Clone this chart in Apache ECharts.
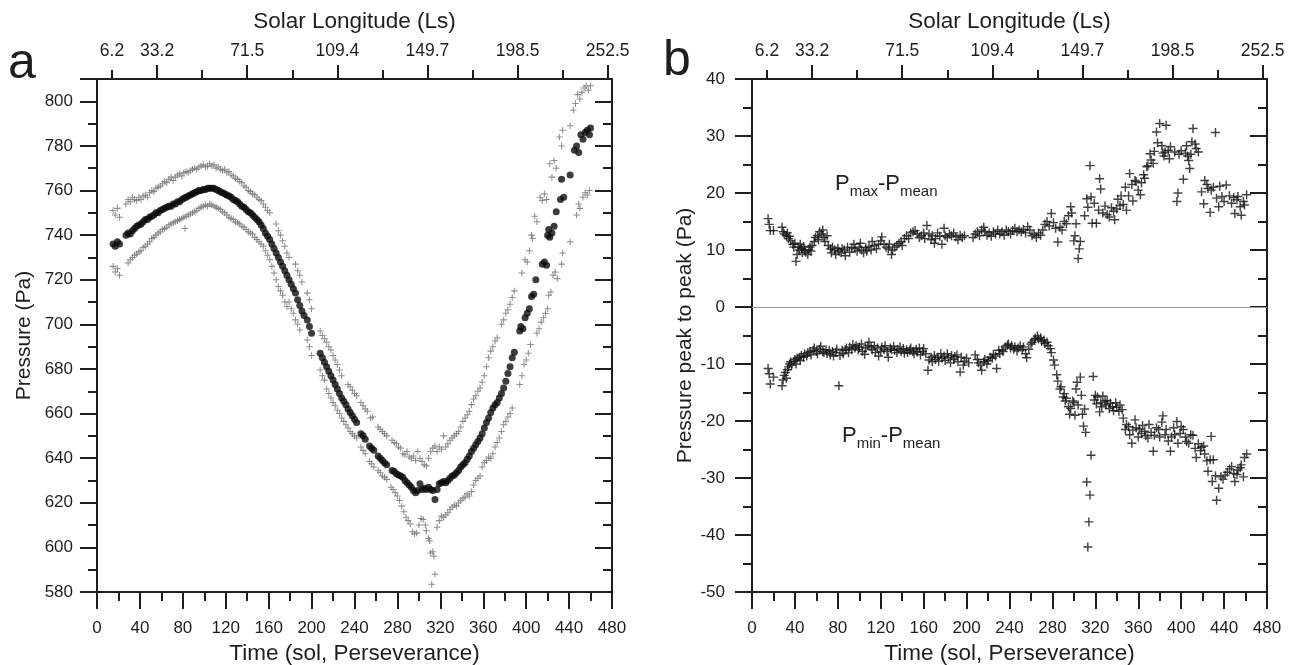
<!DOCTYPE html>
<html>
<head>
<meta charset="utf-8">
<script src="https://cdn.jsdelivr.net/npm/echarts@6/dist/echarts.min.js"></script>
<style>
html,body{margin:0;padding:0;background:#fff;}
#chart{width:1301px;height:665px;}
</style>
</head>
<body>
<div id="chart"></div>
<script>
// ---------- DATA ----------
// Top axis (Solar Longitude) : sol positions of ticks and their Ls labels
const lsLongTickSols = [56, 140, 224, 308, 392, 476];
const lsShortTickSols = [14, 98, 182, 266, 350, 434];
const lsLabelSols = [14, 56, 140, 224, 308, 392, 476];
const lsLabels = ['6.2', '33.2', '71.5', '109.4', '149.7', '198.5', '252.5'];

// Panel a : daily mean pressure (Pa) [sol, value]
const pMean = [
[15,736],[17,735],[19,737],[21,736],
[27,740],[29,741],[31,740.5],[33,742],[35,743],[37,744],[39,744.5],[41,745],[43,746],[45,747],[47,747],[49,748],
[51,748.5],[53,749],[55,750],[57,750],[59,751],[61,751.5],[63,752],[65,752.5],[67,753],[69,753],[71,754],[73,754],
[75,755],[77,755],[79,756],[81,756.5],[83,757],[85,757.5],[87,758],[89,758.5],[91,759],[93,759.5],[95,760],[97,760],
[99,760.5],[101,760.5],[103,761],[105,761],[107,761],[109,761],[111,760.5],[113,760],[115,759.5],[117,759],[119,758.5],
[121,758],[123,757.5],[125,757],[127,756],[129,755.5],[131,755],[133,754],[135,753],[137,752.5],[139,751.5],[141,750.5],
[143,750],[145,749],[147,748],[149,747],[151,746],[153,744.5],[155,743],[157,741],[159,739.5],[161,738],[163,736],
[165,734],[167,732],[169,730],[171,728],[173,726],[175,724],[177,722],[179,720],[181,718],[183,716],[185,714],[187,711],
[189,708.5],[191,706],[193,704],[196,702],[198,699],[200,696],
[208,687],[210,685],[212,683],[214,681],[216,679],[218,677],[220,675],[222,673],[224,671],[226,669],[228,667],[230,665.5],
[232,664],[234,662],[236,660.5],[238,659],[240,657.5],[242,656],[246,651],[248,650],[250,648.5],[254,645.5],[256,644.5],
[258,643.5],[262,641],[264,640],[266,639],[268,638],[270,637],[275,634.5],[277,634],[279,633],[281,632.5],[283,632],
[285,631.5],[287,630],[289,629],[291,628],[293,627],[295,625.5],[297,624.5],[299,625.5],[301,628.5],[303,626],[305,626.5],
[307,626],[309,627],[311,626],[313,625.5],[315,621.5],[317,626],[319,628.5],[321,629],[323,629.5],[325,629],[327,630],
[329,631],[331,632],[333,632.5],[335,633.5],[337,634.5],[339,636],[341,637],[343,638],[345,639.5],[347,641],[349,643],
[351,644.5],[353,646],[355,647.5],[357,649],[359,651],[361,653.5],[363,656],[365,658],[367,660.5],[369,662.5],[371,664],
[373,665],[375,667],[377,669],[379,671.5],[381,674.5],[383,678],[385,681],[387,685],[389,687.5],
[394,697],[395,699],[397,698],[399,703],[401,705],[403,707],[405,712.5],[407,713.5],[409,720],
[415,727],[417,728],[419,726.5],[420,740],[421,742.5],[422,739],[424,741],[426,744],[428,750.5],[432,756],[433,765],
[435,757],[441,767],[445,778],[447,780],[449,777],[451,785],[453,783],[455,786],[457,787],[459,785],[460,788]
];

// Panel a : daily maximum pressure (Pa)
const pMax = [
[15,751],[17,749],[19,752],[21,748],
[27,754],[29,756],[31,755],[33,757],[35,756],[37,755.5],[39,757],[41,756],[43,757.5],[45,758],[47,757],[49,759],
[51,760],[53,759.5],[55,761],[57,761.5],[59,762],[61,763],[63,764],[65,763.5],[67,765],[69,766],[71,764.5],[73,766],
[75,767],[77,767.5],[79,766.5],[81,768],[83,768.5],[85,768],[87,769],[89,769.5],[91,770],[93,769.5],[95,770.5],[97,771],
[99,771.5],[101,770.5],[103,771],[105,772],[107,771],[109,771.5],[111,770],[113,770.5],[115,769.5],[117,769],[119,769.5],
[121,768],[123,768.5],[125,767],[127,766.5],[129,765.5],[131,765],[133,764],[135,763.5],[137,762],[139,761.5],[141,760],
[143,759.5],[145,758.5],[147,758],[149,757],[151,756],[153,755.5],[155,754],[157,752.5],[159,751],[161,750],
[167,745],[169,742],[171,740],[173,737.5],[175,735],[177,732],[179,730],[185,727],[187,724],[189,722],[191,719],
[196,714],[198,711],[200,707],
[208,697],[210,695],[212,693.5],[214,692],[216,690],[218,688.5],[220,686],[222,684],[224,682],[226,679.5],[228,677],
[234,673],[236,672],[238,670.5],[240,669],[242,668],[246,665],[248,663.5],[250,662],[252,661],[255,658],[257,658.5],
[262,654],[264,653],[266,652],[268,651],[270,650],[275,648],[277,647],[279,646.5],[281,645],[283,644.5],[285,642],
[287,641.5],[289,643],[291,640.5],[293,640],[295,641],[297,639],[299,643],[301,640],[303,638.5],[305,637],[307,636.5],
[309,640],[311,643],[313,644.5],[315,645.5],[317,643],[319,645],[321,644],[323,650],[325,645],[327,646.5],[329,648],
[331,649],[333,650],[335,651],[337,652],[339,654],[341,656.5],[343,658],[345,659.5],[347,661],[349,664],[351,666.5],
[353,668],[355,670],[357,671.5],[359,674],[361,677],[363,681],[365,685],[367,688],[369,690],[371,692.5],[373,694],
[377,700],[379,702],[381,705],[383,706.5],[385,709],[387,712],[389,715],
[396,723],[399,729],[401,728],[403,733],[405,740],[406,738.5],[408,748.5],[410,746],[413,757],[415,755.5],[417,758.5],
[419,756],[422,772],[424,766],[426,773.5],[428,770],[431,784],[433,780],[434,787],[441,789],[444,796],[446,799],
[448,803],[450,801],[452,804],[454,806],[456,807],[458,805],[460,807]
];

// Panel a : daily minimum pressure (Pa)
const pMin = [
[15,726],[17,723.5],[19,725],[21,722],
[29,727.5],[31,729],[33,730],[35,731],[37,731.5],[39,732.5],[41,733],[43,734.5],[45,735],[47,736],[49,737],[51,738.5],
[53,739],[55,740],[57,741],[59,741.5],[61,742.5],[63,743],[65,743.5],[67,744.5],[69,745],[71,745.5],[73,746],[75,746.5],
[77,747],[79,747.5],[81,748],[82,743],[83,748.5],[85,749],[87,749.5],[89,750],[91,750.5],[93,751],[95,752],[97,752.5],
[99,753],[101,753.5],[103,753],[105,754],[107,753.5],[109,753],[111,752.5],[113,752],[115,751.5],[117,750.5],[119,750],
[121,749],[123,748],[125,747.5],[127,747],[129,746],[131,745.5],[133,745],[135,744],[137,743.5],[139,742.5],[141,741.5],
[143,741],[145,740.5],[147,739],[149,738],[151,737],[153,736],[155,735],[157,733],[159,731],[161,729],[163,726],
[165,723],[167,720],[169,717],[171,715],[173,713],[175,710],[177,708],[179,710],[181,707],[183,705],[185,702],[187,700],
[189,697.5],[196,693],[198,690],[200,686],
[208,679.5],[210,677],[212,675],[214,671],[216,669],[218,667],[220,665],[222,663.5],[224,661.5],[226,660],[228,658],
[230,656.5],[232,655],[234,653.5],[236,652],[238,651],[240,650],[242,649],[246,645],[248,643.5],[250,642],[254,638.5],
[256,637.5],[258,636],[262,634.5],[264,633.5],[266,632],[268,631.5],[270,630.5],[274,627],[276,626],[278,624.5],
[280,623],[282,621],[284,618.5],[286,616],[288,613.5],[290,612],[292,610.5],[294,607],[296,606],[298,606.5],[300,610],
[302,613],[304,612.5],[306,610],[307,607.5],[309,604],[310,603],[311,597.5],[312,583.5],[313,598],[314,596],[315,588],
[317,609],[319,612],[321,614],[323,613.5],[325,614.5],[327,615.5],[329,617],[331,618],[333,619],[335,618.5],[337,620],
[339,621],[341,622],[343,622.5],[345,624],[347,623],[349,625],[351,628],[353,630],[355,631],[357,632],[359,636],
[361,638],[363,639],[365,640.5],[367,640],[369,642],[371,645],[373,647],[375,649],[377,652],[379,655],[381,656.5],
[383,658.5],[385,660],[387,662.5],[394,673],[396,677],[398,682],[400,684],[402,687],[404,691],[410,696],[412,698],
[414,701],[416,703],[418,705],[420,707],[421,713],[423,714.5],[425,722],[427,723.5],[429,720.5],[433,727],[434,732],
[441,737],[447,749],[449,754],[450,752],[453,757],[455,759],[457,758],[459,760]
];

// Panel b : Pmax - Pmean (Pa)
const dMax = [
[15,15.5],[16,14.5],[17,13.4],[20,13.4],[28,14],[29,13.2],[30,12.8],[32,12.5],[33,13],[34,12],[35,12.4],[36,11.6],
[38,11],[39,10.5],[40,11.2],[41,8],[42,9.2],[43,10.5],[44,10],[45,11],[46,10.3],[47,9.5],[48,10.6],[49,10],[50,9.6],
[52,9.2],[53,10],[54,10.5],[55,9.8],[56,10.8],[58,11.5],[59,12.2],[61,12.5],[62,11.8],[63,13.2],[65,12.8],[66,13.5],
[67,12.2],[68,11.5],[70,12.5],[71,10.8],[73,10.2],[74,9.5],[75,10.5],[77,10],[78,9.2],[80,10.3],[81,9.8],[83,9.5],
[84,10.2],[86,10],[87,9],[89,10.5],[91,9.6],[93,10.4],[95,11],[96,10.2],[98,9.8],[100,10.5],[101,11.2],[102,10],
[104,9.5],[106,10.4],[107,9.8],[109,10.6],[111,10],[112,11.5],[114,10.8],[116,10.2],[118,11],[120,11.6],[121,12.3],
[123,11],[125,10.5],[127,10.2],[128,11],[130,9.2],[131,10],[133,10.5],[135,10.8],[137,11.2],[139,11.5],[140,10.8],
[142,12],[144,12.5],[146,12],[148,13],[150,13.2],[152,13.4],[154,12.8],[156,12.2],[158,12.5],[160,13],[161,12],
[163,14.3],[165,12.8],[167,11.8],[168,12.5],[170,11.2],[171,12],[173,13],[175,12.4],[177,11],[179,13.8],[180,12.5],
[182,12.2],[184,12.8],[186,12.5],[188,13],[190,12.3],[192,11.8],[194,12.6],[196,12.2],[198,12.5],
[206,12.2],[208,12.8],[210,13.2],[212,12.5],[214,13.5],[216,14],[217,13.2],[219,12.6],[221,13],[223,12.4],[225,13.2],
[227,12.8],[229,13.5],[231,12.8],[233,13.2],[235,12.6],[237,13.5],[239,13.2],[241,12.8],[243,13.4],[245,13.8],
[247,13.2],[249,13.5],[251,13.2],[253,13.6],[255,13],[257,14.1],[259,13.5],[261,12.5],[263,12.8],[265,12.2],[267,13],
[269,12.6],[271,13.5],[273,14.5],[275,15],[277,14.2],[279,16.4],[281,14.8],[283,13.8],[285,11.4],[287,14],[289,13.5],
[291,15],[293,14.6],[295,16],[297,17.6],[298,16.5],[300,11.6],[301,12.5],[302,14.6],[304,8.5],[305,10.2],[306,11.5],
[310,16],[312,19],[313,17.5],[315,24.8],[316,19.3],[317,14.7],[319,18.2],[321,14.7],[323,17],[324,22.5],[325,20.7],
[327,16.5],[329,17.7],[331,16.2],[333,15.8],[335,17.4],[337,16.8],[338,15.3],[340,17.2],[341,18.9],[343,17.8],
[344,19.5],[346,18],[348,21],[349,17],[351,19.5],[352,23.4],[354,21.5],[355,18.6],[357,22.2],[358,22],[360,20.5],
[362,19.7],[363,21.8],[365,23.2],[366,22.6],[368,24.6],[369,24.8],[371,26.9],[372,25.8],[374,25.2],[375,27.3],
[377,30.7],[378,28.8],[380,32.2],[382,28.3],[383,27],[384,26.5],[385,27.2],[386,31.9],[388,27.5],[389,26],[390,28.1],
[394,27.2],[396,18.5],[397,20],[398,26.8],[400,27.4],[402,22.4],[404,27],[405,28.3],[406,26.5],[407,25.7],[408,24.3],
[409,26.8],[410,29],[411,31.3],[413,28.6],[414,27.8],[416,27.2],[419,20.2],[421,18.1],[422,22.2],[424,21.5],[425,20.8],
[427,16.6],[428,20.5],[430,21],[432,30.6],[433,19.1],[435,17.6],[436,21.2],[438,19.4],[440,18.5],[442,21.4],
[445,19.5],[447,18.2],[449,19.2],[450,16.4],[452,18.8],[453,19.4],[455,17.6],[456,16.1],[458,18.5],[459,17.9],[461,19.7]
];

// Panel b : Pmin - Pmean (Pa)
const dMin = [
[15,-10.8],[16,-11.7],[17,-13.5],[20,-12.3],[28,-13.8],[29,-12.8],[30,-12],[31,-11.5],[32,-12.5],[33,-11],[34,-10.5],
[35,-10],[36,-9.6],[37,-10.2],[39,-9.5],[40,-9.2],[41,-10],[42,-9],[44,-8.8],[45,-9.4],[46,-8.5],[48,-8.8],[49,-8.2],
[51,-8.6],[52,-8],[54,-7.8],[55,-8.4],[57,-7.6],[58,-7.2],[60,-7.8],[61,-8.2],[63,-7.4],[64,-6.9],[66,-7.8],[67,-8],
[69,-7.5],[70,-8.2],[72,-7.6],[73,-8.4],[75,-7.8],[76,-8.6],[78,-8],[79,-7.4],[81,-13.8],[82,-8.5],[84,-7.6],[85,-8.2],
[87,-7.5],[88,-7.2],[90,-8],[91,-7],[93,-7.5],[94,-6.6],[96,-7.2],[97,-6.8],[99,-7.5],[100,-7],[102,-6.5],[103,-7.8],
[105,-8.3],[106,-7.2],[108,-6.8],[109,-6.2],[111,-7],[112,-7.5],[114,-6.8],[115,-8],[117,-7.2],[118,-8.6],[120,-7.8],
[121,-7],[123,-7.5],[124,-6.8],[126,-7.8],[127,-8.8],[129,-7.2],[130,-7.5],[132,-6.9],[133,-7.6],[135,-8],[136,-7.4],
[138,-7],[139,-7.8],[141,-7.3],[142,-8.1],[144,-7.5],[145,-8],[147,-7.6],[148,-7.2],[150,-7.8],[151,-8.2],[153,-7.4],
[154,-7.9],[156,-7.2],[157,-8.4],[159,-7.8],[160,-7.3],[162,-8.2],[164,-11.1],[165,-9.3],[167,-8.8],[168,-9.6],
[170,-8.5],[171,-9.2],[173,-8.8],[174,-9.5],[176,-8.2],[177,-9],[179,-8.6],[180,-9.4],[182,-8.2],[183,-8.9],[185,-9.8],
[186,-8.5],[188,-9.2],[189,-8.7],[191,-8.4],[192,-9.6],[194,-11.4],[195,-8.8],[197,-10.2],[198,-9.5],[200,-9],[202,-9.8],
[208,-8.4],[210,-9.2],[211,-9.8],[213,-10.2],[214,-11.1],[216,-9.6],[217,-9.2],[219,-10],[220,-9.4],[222,-8.8],
[224,-9],[225,-8.3],[227,-8.6],[228,-10.8],[230,-7.6],[231,-8.2],[233,-7.5],[234,-7.8],[236,-7],[238,-6.7],[239,-6.5],
[241,-7.2],[242,-6.8],[244,-7.4],[245,-7],[247,-7.7],[248,-7.2],[250,-6.8],[252,-7.5],[253,-7],[255,-8.2],[256,-8.9],
[258,-7.4],[260,-6.5],[261,-6.2],[263,-5.8],[264,-5.5],[266,-5.1],[267,-5.6],[269,-5.4],[270,-6],[272,-5.8],[273,-6.4],
[275,-6.2],[276,-6.8],[278,-7.3],[279,-8],[281,-9.3],[282,-10.2],[284,-11.9],[285,-13],[287,-14.4],[288,-14],
[290,-15.8],[291,-15.2],[292,-16.5],[293,-16],[295,-17.5],[296,-18.8],[297,-17.8],[299,-16.5],[300,-16.8],[301,-19],
[302,-14.4],[303,-13.2],[304,-17.2],[306,-12.3],[307,-15.5],[308,-18.8],[309,-20.9],[310,-17.9],[311,-22],[312,-30.7],
[313,-42.1],[314,-37.7],[315,-33],[316,-26],[318,-12.2],[319,-16.3],[320,-15.5],[321,-17],[322,-15.8],[324,-18.4],
[325,-16.8],[326,-17.5],[327,-15.6],[329,-16.5],[330,-17.2],[331,-16.4],[333,-17.8],[334,-16.9],[336,-17.5],
[337,-18.2],[339,-16.8],[340,-17.6],[342,-18.3],[343,-17.2],[345,-18],[346,-19.5],[348,-21.5],[349,-20.6],[351,-21],
[352,-22.4],[354,-23.9],[355,-21.6],[357,-19.8],[358,-21.2],[360,-22.8],[361,-21.4],[363,-22.2],[364,-20.8],
[366,-21.8],[367,-22.6],[369,-23],[370,-20.6],[372,-22],[374,-25.3],[375,-22.5],[377,-21.2],[379,-21.5],[380,-22.8],
[382,-20.2],[383,-19.1],[385,-22.4],[386,-21.5],[388,-23.5],[390,-25.3],[391,-22.8],[393,-21.2],[394,-22.4],
[396,-20.1],[397,-23.9],[399,-22.2],[400,-21],[402,-21.5],[404,-22.8],[405,-23.6],[407,-23.9],[409,-22.4],[411,-22.5],
[413,-24.8],[414,-26.4],[416,-24],[418,-25.2],[419,-24.6],[421,-24.4],[422,-25.8],[424,-27],[425,-28.8],[427,-26.8],
[428,-22.7],[429,-30.6],[430,-26.8],[432,-29.6],[433,-33.9],[435,-31.8],[437,-29.8],[439,-30.2],[441,-29.5],
[443,-29],[445,-28.4],[447,-28],[449,-29.2],[450,-30.6],[452,-29.4],[453,-28.6],[455,-28.2],[456,-27.7],[458,-29.8],
[459,-26.4],[461,-25.8]
];

// ---------- STYLE ----------
const FONT = 'Liberation Sans, Arial, sans-serif';
const INK = '#1e1e1e';
const PLUS = 'path://M4.2,0H5.8V10H4.2ZM0,4.2H10V5.8H0Z';

const lineStyle = {color: INK, width: 2};
function bottomAxis(grid){
  return {
    type:'value', gridIndex:grid, position:'bottom', min:0, max:480, interval:40,
    axisLine:{show:true, onZero:false, lineStyle},
    axisTick:{show:true, length:17, lineStyle},
    minorTick:{show:true, splitNumber:2, length:9, lineStyle},
    axisLabel:{margin:28, fontSize:17, color:INK, fontFamily:FONT},
    splitLine:{show:false},
    name:'Time (sol, Perseverance)', nameLocation:'middle', nameGap:50,
    nameTextStyle:{fontSize:22.5, color:INK, fontFamily:FONT}
  };
}
function topLongAxis(grid){
  return {
    type:'value', gridIndex:grid, position:'top', min:0, max:480,
    axisLine:{show:true, onZero:false, lineStyle},
    axisTick:{show:true, length:14, lineStyle, customValues:lsLongTickSols},
    axisLabel:{show:true, margin:19, fontSize:17.5, color:INK, fontFamily:FONT,
      customValues:lsLabelSols,
      formatter:(v)=>{const i=lsLabelSols.indexOf(Math.round(v)); return i>=0?lsLabels[i]:'';}},
    splitLine:{show:false},
    name:'Solar Longitude (Ls)', nameLocation:'middle', nameGap:46,
    nameTextStyle:{fontSize:22.5, color:INK, fontFamily:FONT}
  };
}
function topShortAxis(grid){
  return {
    type:'value', gridIndex:grid, position:'top', min:0, max:480,
    axisLine:{show:false, onZero:false},
    axisTick:{show:true, length:9, lineStyle, customValues:lsShortTickSols},
    axisLabel:{show:false},
    splitLine:{show:false}
  };
}
function leftAxis(grid, min, max, interval, name, gap, margin){
  return {
    type:'value', gridIndex:grid, position:'left', min, max, interval,
    axisLine:{show:true, onZero:false, lineStyle},
    axisTick:{show:true, length:17, lineStyle},
    minorTick:{show:true, splitNumber:2, length:9, lineStyle},
    axisLabel:{margin, fontSize:17, color:INK, fontFamily:FONT, showMaxLabel: (max % interval === 0)},
    splitLine:{show:false},
    name, nameLocation:'middle', nameGap:gap,
    nameTextStyle:{fontSize:21, color:INK, fontFamily:FONT}
  };
}
function rightAxis(grid, min, max, interval){
  return {
    type:'value', gridIndex:grid, position:'right', min, max, interval,
    axisLine:{show:true, onZero:false, lineStyle},
    axisTick:{show:true, inside:true, length:17, lineStyle},
    minorTick:{show:true, splitNumber:2, length:9, lineStyle},
    axisLabel:{show:false},
    splitLine:{show:false}
  };
}

const option = {
  backgroundColor:'#fff',
  animation:false,
  textStyle:{fontFamily:FONT},
  grid:[
    {left:97, top:79, width:515, height:513, outerBoundsMode:'none', containLabel:false},
    {left:752, top:79, width:515, height:513, outerBoundsMode:'none', containLabel:false}
  ],
  xAxis:[
    bottomAxis(0), topLongAxis(0), topShortAxis(0),
    bottomAxis(1), topLongAxis(1), topShortAxis(1)
  ],
  yAxis:[
    leftAxis(0, 580, 810, 20, 'Pressure (Pa)', 62, 24),
    rightAxis(0, 580, 810, 20),
    leftAxis(1, -50, 40, 10, 'Pressure peak to peak (Pa)', 56, 27),
    rightAxis(1, -50, 40, 10)
  ],
  series:[
    {type:'scatter', xAxisIndex:0, yAxisIndex:0, data:pMax, symbol:PLUS, symbolSize:6.5,
      itemStyle:{color:'#707070'}, silent:true},
    {type:'scatter', xAxisIndex:0, yAxisIndex:0, data:pMin, symbol:PLUS, symbolSize:6.5,
      itemStyle:{color:'#707070'}, silent:true},
    {type:'scatter', xAxisIndex:0, yAxisIndex:0, data:pMean, symbol:'circle', symbolSize:7,
      itemStyle:{color:'#0d0d0d'}, silent:true},
    {type:'scatter', xAxisIndex:3, yAxisIndex:2, data:dMax, symbol:PLUS, symbolSize:9,
      itemStyle:{color:'#111'}, silent:true,
      markLine:{silent:true, symbol:'none', label:{show:false},
        lineStyle:{color:'#9a9a9a', width:1, type:'solid'}, data:[{yAxis:0}]}},
    {type:'scatter', xAxisIndex:3, yAxisIndex:2, data:dMin, symbol:PLUS, symbolSize:9,
      itemStyle:{color:'#111'}, silent:true}
  ],
  graphic:[
    {type:'text', left:8, top:39, style:{text:'a', font:'50px '+FONT, fill:INK}},
    {type:'text', left:663, top:36, style:{text:'b', font:'50px '+FONT, fill:INK}},
    {type:'text', left:835, top:173, style:{
      text:'{p|P}{s|max}{p|-P}{s|mean}',
      rich:{p:{fontSize:22, fontFamily:FONT, fill:INK, color:INK, verticalAlign:'top', lineHeight:22},
            s:{fontSize:15, fontFamily:FONT, fill:INK, color:INK, verticalAlign:'top', lineHeight:15, padding:[11,0,0,0]}}}},
    {type:'text', left:842, top:425, style:{
      text:'{p|P}{s|min}{p|-P}{s|mean}',
      rich:{p:{fontSize:22, fontFamily:FONT, fill:INK, color:INK, verticalAlign:'top', lineHeight:22},
            s:{fontSize:15, fontFamily:FONT, fill:INK, color:INK, verticalAlign:'top', lineHeight:15, padding:[11,0,0,0]}}}}
  ]
};

const chart = echarts.init(document.getElementById('chart'), null, {renderer:'canvas'});
chart.setOption(option);
</script>
</body>
</html>
